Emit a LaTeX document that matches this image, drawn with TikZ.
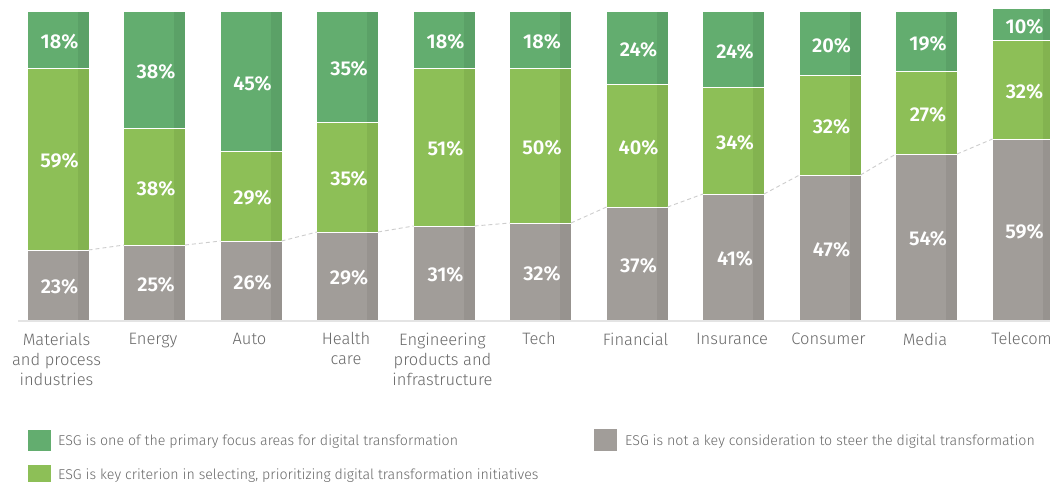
\documentclass[tikz,border=0pt]{standalone}
\usepackage{fontspec}
\setmainfont{Fira Sans Light}
\newfontfamily\pctfont{Fira Sans SemiBold}
\definecolor{dg}{RGB}{99,173,111}
\definecolor{dgs}{RGB}{91,161,103}
\definecolor{lg}{RGB}{141,191,87}
\definecolor{lgs}{RGB}{131,179,80}
\definecolor{gy}{RGB}{161,157,153}
\definecolor{gys}{RGB}{151,147,143}
\definecolor{txt}{RGB}{105,105,105}
\definecolor{dashc}{RGB}{205,205,205}
\definecolor{basec}{RGB}{228,228,228}
\tikzset{
  pct/.style={font=\pctfont\fontsize{20}{22}\selectfont, text=white, inner sep=0pt},
  cat/.style={font=\fontsize{16.5}{20}\selectfont, text=txt, align=center, inner sep=0pt, anchor=north},
  leg/.style={font=\fontsize{14.2}{16}\selectfont, text=txt, inner sep=0pt, anchor=base west},
  sep/.style={white, line width=0.9pt},
  trend/.style={dashc, line width=0.9pt, dash pattern=on 4pt off 3pt},
  axis/.style={basec, line width=1.5pt}
}
\begin{document}
\begin{tikzpicture}[x=1pt,y=-1pt]
\clip (0,0) rectangle (1050,482);
\fill[white] (0,0) rectangle (1050,482);
\foreach \i/\t/\a/\b/\d/\l/\g/\name in {
  1/12/68/250/18/59/23/{Materials\\and process\\industries},
  2/12/128/245/38/38/25/{Energy},
  3/12/151/241/45/29/26/{Auto},
  4/12/122/232/35/35/29/{Health\\care},
  5/12/68/226/18/51/31/{Engineering\\products and\\infrastructure},
  6/12/68/223/18/50/32/{Tech},
  7/12/84/207/24/40/37/{Financial},
  8/12/87/194/24/34/41/{Insurance},
  9/12/75/175/20/32/47/{Consumer},
  10/12/71/154/19/27/54/{Media},
  11/9/40/139/10/32/59/{Telecom}}{
  \pgfmathsetmacro\x{27.5+(\i-1)*96.5}
  \fill[dg] (\x,\t) rectangle (\x+61,\a);
  \fill[dgs] (\x+50,\t) rectangle (\x+61,\a);
  \fill[lg] (\x,\a) rectangle (\x+61,\b);
  \fill[lgs] (\x+50,\a) rectangle (\x+61,\b);
  \fill[gy] (\x,\b) rectangle (\x+61,320);
  \fill[gys] (\x+50,\b) rectangle (\x+61,320);
  \draw[sep] (\x,\a) -- (\x+61,\a);
  \draw[sep] (\x,\b) -- (\x+61,\b);
  \coordinate (gl\i) at (\x,\b);
  \coordinate (gr\i) at (\x+61,\b);
  \node[pct] (d\i) at (\x+32,{(\t+\a)/2+2}) {\d\%};
  \node[pct] (l\i) at (\x+32,{(\a+\b)/2+2}) {\l\%};
  \node[pct] (g\i) at (\x+32,{(\b+320)/2+2}) {\g\%};
  \node[cat] (c\i) at (\x+29,332.5) {\name};
}
\foreach \i [evaluate=\i as \j using int(\i+1)] in {1,...,10}{
  \draw[trend] (gr\i) -- (gl\j);
}
\draw[axis] (18,321) -- (1050,321);
% legend
\fill[dg] (28,430) rectangle (51,451);
\node[leg] (t1) at (58,445) {ESG is one of the primary focus areas for digital transformation};
\fill[lg] (28,465) rectangle (51,486);
\node[leg] (t2) at (58,479) {ESG is key criterion in selecting, prioritizing digital transformation initiatives};
\fill[gy] (594,429) rectangle (617,451);
\node[leg] (t3) at (625,445) {ESG is not a key consideration to steer the digital transformation};
\end{tikzpicture}
\end{document}
